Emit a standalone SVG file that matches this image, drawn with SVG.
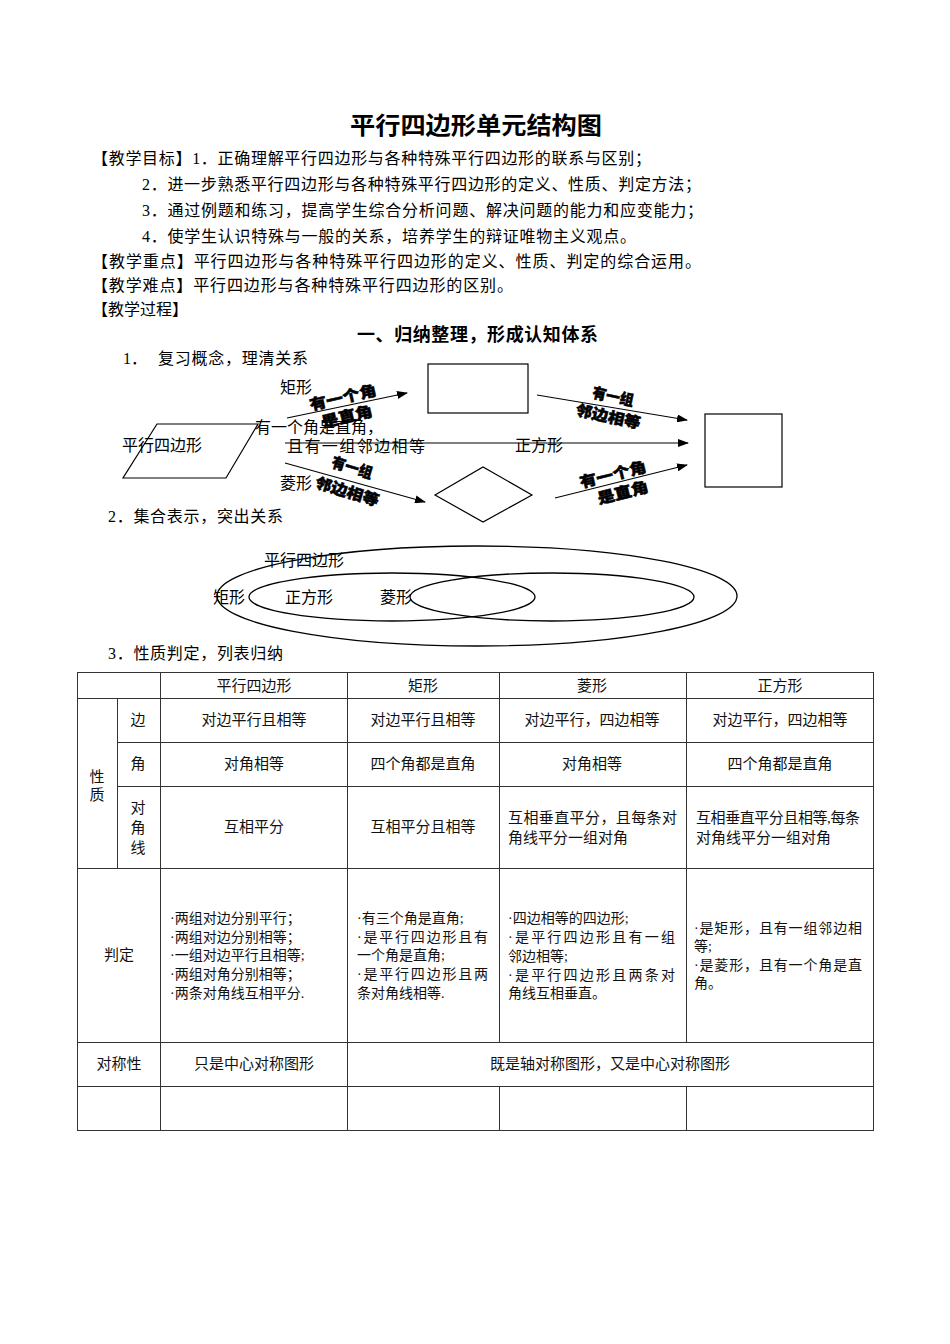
<svg xmlns="http://www.w3.org/2000/svg" width="950" height="1344" viewBox="0 0 950 1344">
<style>
.t{font-family:"Liberation Serif","Noto Sans CJK SC",serif;font-size:16px;fill:#000}
.tb{font-family:"Noto Sans CJK SC",sans-serif;font-weight:bold;fill:#000}
.wa{font-family:"Noto Sans CJK SC",sans-serif;font-weight:900;font-size:15px;fill:#000;stroke:#000;stroke-width:0.5;text-anchor:middle}
.c{font-family:"Liberation Serif","Noto Sans CJK SC",serif;font-size:15px;fill:#111;text-anchor:middle}
.l{font-family:"Liberation Serif","Noto Sans CJK SC",serif;font-size:15px;fill:#111}
.j{font-family:"Liberation Serif","Noto Sans CJK SC",serif;font-size:14px;fill:#111}
.shape{fill:#fff;stroke:#000;stroke-width:1.2}
.conn{stroke:#000;stroke-width:1.1;fill:none}
.ell{fill:none;stroke:#000;stroke-width:1.3}
.grid line{stroke:#333;stroke-width:1}
</style>
<defs>
<marker id="ah" markerUnits="userSpaceOnUse" markerWidth="11" markerHeight="8" refX="10" refY="4" orient="auto">
<path d="M0,0 L11,4 L0,8 z" fill="#000"/>
</marker>
</defs>
<rect width="950" height="1344" fill="#fff"/>

<g id="header">
<text class="tb" x="350" y="134" font-size="24" textLength="252" lengthAdjust="spacingAndGlyphs">平行四边形单元结构图</text>
<text class="t" x="92" y="164" textLength="559" lengthAdjust="spacing">【教学目标】1．正确理解平行四边形与各种特殊平行四边形的联系与区别；</text>
<text class="t" x="142" y="190" textLength="559" lengthAdjust="spacing">2．进一步熟悉平行四边形与各种特殊平行四边形的定义、性质、判定方法；</text>
<text class="t" x="142" y="216" textLength="561" lengthAdjust="spacing">3．通过例题和练习，提高学生综合分析问题、解决问题的能力和应变能力；</text>
<text class="t" x="142" y="242" textLength="494" lengthAdjust="spacing">4．使学生认识特殊与一般的关系，培养学生的辩证唯物主义观点。</text>
<text class="t" x="92" y="267" textLength="609" lengthAdjust="spacing">【教学重点】平行四边形与各种特殊平行四边形的定义、性质、判定的综合运用。</text>
<text class="t" x="92" y="291" textLength="421" lengthAdjust="spacing">【教学难点】平行四边形与各种特殊平行四边形的区别。</text>
<text class="t" x="92" y="315">【教学过程】</text>
<text class="tb" x="357" y="341" font-size="18" textLength="241" lengthAdjust="spacing">一、归纳整理，形成认知体系</text>
<text class="t" x="123" y="364">1．</text>
<text class="t" x="158" y="364" textLength="150" lengthAdjust="spacing">复习概念，理清关系</text>
</g>

<g id="connectors">
<line class="conn" x1="287" y1="418" x2="407" y2="393" marker-end="url(#ah)"/>
<line class="conn" x1="285" y1="443" x2="688" y2="443" marker-end="url(#ah)"/>
<line class="conn" x1="285" y1="463" x2="425" y2="502" marker-end="url(#ah)"/>
<line class="conn" x1="537" y1="395" x2="687" y2="420" marker-end="url(#ah)"/>
<line class="conn" x1="555" y1="498" x2="687" y2="465" marker-end="url(#ah)"/>
</g>

<g id="node-parallelogram">
<polygon class="shape" points="157,424 258,424 226,478 123,478"/>
<text class="t" x="122" y="451">平行四边形</text>
</g>
<g id="node-rectangle">
<rect class="shape" x="428" y="364" width="100" height="49"/>
<text class="t" x="280" y="393">矩形</text>
</g>
<g id="node-rhombus">
<polygon class="shape" points="435,495 483,467 532,495 483,522"/>
<text class="t" x="280" y="489">菱形</text>
</g>
<g id="node-square">
<rect class="shape" x="705" y="414" width="77" height="73"/>
<text class="t" x="515" y="451">正方形</text>
</g>

<g id="labels">
<text class="t" x="255" y="433">有一个角是直角，</text>
<text class="t" x="287" y="452" textLength="138" lengthAdjust="spacing">且有一组邻边相等</text>
<text class="wa" transform="translate(343,398) rotate(-13)" y="5" textLength="68" lengthAdjust="spacingAndGlyphs">有一个角</text>
<text class="wa" transform="translate(347,417) rotate(-13)" y="5" textLength="52" lengthAdjust="spacingAndGlyphs">是直角</text>
<text class="wa" transform="translate(352,468) rotate(17)" y="5" textLength="42" lengthAdjust="spacingAndGlyphs">有一组</text>
<text class="wa" transform="translate(347,492) rotate(17)" y="5" textLength="66" lengthAdjust="spacingAndGlyphs">邻边相等</text>
<text class="wa" transform="translate(613,397) rotate(12)" y="5" textLength="42" lengthAdjust="spacingAndGlyphs">有一组</text>
<text class="wa" transform="translate(608,417) rotate(12)" y="5" textLength="66" lengthAdjust="spacingAndGlyphs">邻边相等</text>
<text class="wa" transform="translate(613,475) rotate(-14)" y="5" textLength="68" lengthAdjust="spacingAndGlyphs">有一个角</text>
<text class="wa" transform="translate(623,493) rotate(-14)" y="5" textLength="52" lengthAdjust="spacingAndGlyphs">是直角</text>
</g>

<g id="venn">
<text class="t" x="108" y="522" textLength="175" lengthAdjust="spacing">2．集合表示，突出关系</text>
<ellipse class="ell" cx="477" cy="596" rx="260" ry="50"/>
<ellipse class="ell" cx="392" cy="597" rx="143" ry="24"/>
<ellipse class="ell" cx="552" cy="597" rx="142" ry="24"/>
<text class="t" x="264" y="566">平行四边形</text>
<text class="t" x="213" y="603">矩形</text>
<text class="t" x="285" y="603">正方形</text>
<text class="t" x="380" y="603">菱形</text>
<text class="t" x="108" y="659" textLength="175" lengthAdjust="spacing">3．性质判定，列表归纳</text>
</g>

<g id="table">
<g class="grid">
<line x1="77" y1="672.5" x2="873" y2="672.5"/>
<line x1="77" y1="698.5" x2="873" y2="698.5"/>
<line x1="117" y1="742.5" x2="873" y2="742.5"/>
<line x1="117" y1="786.5" x2="873" y2="786.5"/>
<line x1="77" y1="868.5" x2="873" y2="868.5"/>
<line x1="77" y1="1042.5" x2="873" y2="1042.5"/>
<line x1="77" y1="1086.5" x2="873" y2="1086.5"/>
<line x1="77" y1="1130.5" x2="873" y2="1130.5"/>
<line x1="77.5" y1="672" x2="77.5" y2="1131"/>
<line x1="117.5" y1="698" x2="117.5" y2="868"/>
<line x1="160.5" y1="672" x2="160.5" y2="1131"/>
<line x1="347.5" y1="672" x2="347.5" y2="1131"/>
<line x1="499.5" y1="672" x2="499.5" y2="1042"/>
<line x1="499.5" y1="1086" x2="499.5" y2="1131"/>
<line x1="686.5" y1="672" x2="686.5" y2="1042"/>
<line x1="686.5" y1="1086" x2="686.5" y2="1131"/>
<line x1="873.5" y1="672" x2="873.5" y2="1131"/>
</g>
<text class="c" x="254" y="691">平行四边形</text>
<text class="c" x="423" y="691">矩形</text>
<text class="c" x="592" y="691">菱形</text>
<text class="c" x="780" y="691">正方形</text>

<text class="c" x="97" y="782">性</text>
<text class="c" x="97" y="800">质</text>

<text class="c" x="138" y="725">边</text>
<text class="c" x="254" y="725">对边平行且相等</text>
<text class="c" x="423" y="725">对边平行且相等</text>
<text class="c" x="592" y="725">对边平行，四边相等</text>
<text class="c" x="780" y="725">对边平行，四边相等</text>

<text class="c" x="138" y="769">角</text>
<text class="c" x="254" y="769">对角相等</text>
<text class="c" x="423" y="769">四个角都是直角</text>
<text class="c" x="592" y="769">对角相等</text>
<text class="c" x="780" y="769">四个角都是直角</text>

<text class="c" x="138" y="813">对</text>
<text class="c" x="138" y="833">角</text>
<text class="c" x="138" y="853">线</text>
<text class="c" x="254" y="832">互相平分</text>
<text class="c" x="423" y="832">互相平分且相等</text>
<text class="l" x="508" y="823" textLength="169" lengthAdjust="spacing">互相垂直平分，且每条对</text>
<text class="l" x="508" y="843">角线平分一组对角</text>
<text class="l" x="696" y="823" textLength="164" lengthAdjust="spacing">互相垂直平分且相等,每条</text>
<text class="l" x="696" y="843">对角线平分一组对角</text>

<text class="c" x="119" y="960">判定</text>
<text class="j" x="170" y="923">·两组对边分别平行；</text>
<text class="j" x="170" y="942">·两组对边分别相等；</text>
<text class="j" x="170" y="960">·一组对边平行且相等;</text>
<text class="j" x="170" y="979">·两组对角分别相等；</text>
<text class="j" x="170" y="998">·两条对角线互相平分.</text>

<text class="j" x="357" y="923">·有三个角是直角;</text>
<text class="j" x="357" y="942" textLength="131" lengthAdjust="spacing">·是平行四边形且有</text>
<text class="j" x="357" y="960">一个角是直角;</text>
<text class="j" x="357" y="979" textLength="131" lengthAdjust="spacing">·是平行四边形且两</text>
<text class="j" x="357" y="998">条对角线相等.</text>

<text class="j" x="508" y="923">·四边相等的四边形;</text>
<text class="j" x="508" y="942" textLength="167" lengthAdjust="spacing">·是平行四边形且有一组</text>
<text class="j" x="508" y="961">邻边相等;</text>
<text class="j" x="508" y="980" textLength="167" lengthAdjust="spacing">·是平行四边形且两条对</text>
<text class="j" x="508" y="998">角线互相垂直。</text>

<text class="j" x="694" y="933" textLength="168" lengthAdjust="spacing">·是矩形，且有一组邻边相</text>
<text class="j" x="694" y="951">等;</text>
<text class="j" x="694" y="970" textLength="168" lengthAdjust="spacing">·是菱形，且有一个角是直</text>
<text class="j" x="694" y="988">角。</text>

<text class="c" x="119" y="1069">对称性</text>
<text class="c" x="254" y="1069">只是中心对称图形</text>
<text class="c" x="610" y="1069">既是轴对称图形，又是中心对称图形</text>
</g>
</svg>
